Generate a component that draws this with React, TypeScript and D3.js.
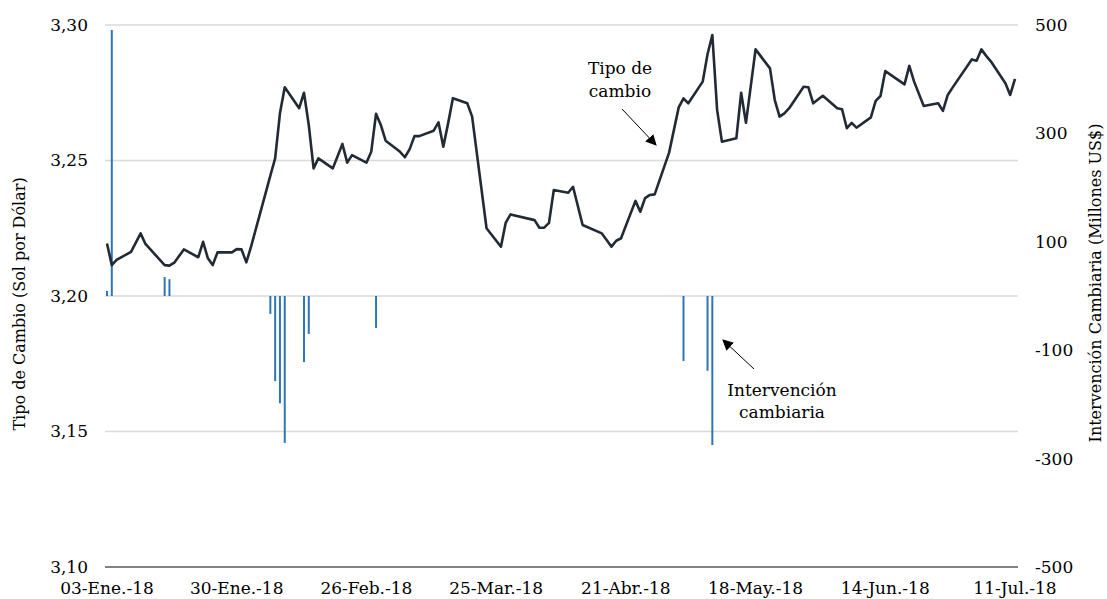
import React from 'react'
import * as d3 from 'd3'

// tipo de cambio diario (S/ por US$)
const fechas = [
  '2018-01-03', '2018-01-04', '2018-01-05', '2018-01-08', '2018-01-10', '2018-01-11',
  '2018-01-15', '2018-01-16', '2018-01-17', '2018-01-19', '2018-01-22', '2018-01-23',
  '2018-01-24', '2018-01-25', '2018-01-26', '2018-01-29', '2018-01-30', '2018-01-31',
  '2018-02-01', '2018-02-02', '2018-02-05', '2018-02-06', '2018-02-07', '2018-02-08',
  '2018-02-09', '2018-02-12', '2018-02-13', '2018-02-14', '2018-02-15', '2018-02-16',
  '2018-02-19', '2018-02-21', '2018-02-22', '2018-02-23', '2018-02-26', '2018-02-27',
  '2018-02-28', '2018-03-01', '2018-03-02', '2018-03-05', '2018-03-06', '2018-03-07',
  '2018-03-08', '2018-03-09', '2018-03-12', '2018-03-13', '2018-03-14', '2018-03-15',
  '2018-03-16', '2018-03-19', '2018-03-20', '2018-03-23', '2018-03-26', '2018-03-27',
  '2018-03-28', '2018-04-02', '2018-04-03', '2018-04-04', '2018-04-05', '2018-04-06',
  '2018-04-09', '2018-04-10', '2018-04-12', '2018-04-16', '2018-04-17', '2018-04-18',
  '2018-04-19', '2018-04-20', '2018-04-23', '2018-04-24', '2018-04-25', '2018-04-26',
  '2018-04-27', '2018-04-30', '2018-05-02', '2018-05-03', '2018-05-04', '2018-05-07',
  '2018-05-08', '2018-05-09', '2018-05-10', '2018-05-11', '2018-05-14', '2018-05-15',
  '2018-05-16', '2018-05-18', '2018-05-21', '2018-05-22', '2018-05-23', '2018-05-24',
  '2018-05-25', '2018-05-28', '2018-05-29', '2018-05-30', '2018-06-01', '2018-06-04',
  '2018-06-05', '2018-06-06', '2018-06-07', '2018-06-08', '2018-06-11', '2018-06-12',
  '2018-06-13', '2018-06-14', '2018-06-18', '2018-06-19', '2018-06-20', '2018-06-22',
  '2018-06-25', '2018-06-26', '2018-06-27', '2018-06-28', '2018-07-02', '2018-07-03',
  '2018-07-04', '2018-07-05', '2018-07-06', '2018-07-09', '2018-07-10', '2018-07-11'
]

const tipoCambio = [
  3.2194, 3.2114, 3.2133, 3.2163, 3.2231, 3.2192,
  3.2114, 3.2112, 3.2123, 3.2172, 3.2143, 3.2200,
  3.2139, 3.2114, 3.2161, 3.2161, 3.2173, 3.2172,
  3.2124, 3.2183, 3.2379, 3.2444, 3.2508, 3.2674,
  3.2770, 3.2693, 3.2750, 3.2631, 3.2471, 3.2508,
  3.2471, 3.2561, 3.2492, 3.2520, 3.2492, 3.2532,
  3.2672, 3.2631, 3.2573, 3.2532, 3.2512, 3.2542,
  3.2590, 3.2590, 3.2610, 3.2641, 3.2551, 3.2637,
  3.2730, 3.2711, 3.2662, 3.2250, 3.2182, 3.2271,
  3.2301, 3.2280, 3.2252, 3.2252, 3.2270, 3.2391,
  3.2381, 3.2403, 3.2262, 3.2231, 3.2207, 3.2182,
  3.2204, 3.2213, 3.2351, 3.2311, 3.2361, 3.2373,
  3.2375, 3.2529, 3.2696, 3.2729, 3.2711, 3.2791,
  3.2892, 3.2963, 3.2686, 3.2569, 3.2582, 3.2750,
  3.2639, 3.2910, 3.2840, 3.2723, 3.2662, 3.2674,
  3.2693, 3.2772, 3.2770, 3.2711, 3.2739, 3.2693,
  3.2689, 3.2619, 3.2639, 3.2621, 3.2659, 3.2720,
  3.2738, 3.2830, 3.2781, 3.2849, 3.2791, 3.2701,
  3.2711, 3.2683, 3.2742, 3.2769, 3.2873, 3.2868,
  3.2910, 3.2886, 3.2865, 3.2785, 3.2742, 3.2801
]

// intervencion cambiaria (millones US$)
const intervFechas = [
  '2018-01-03', '2018-01-04', '2018-01-15', '2018-01-16', '2018-02-06', '2018-02-07',
  '2018-02-08', '2018-02-09', '2018-02-13', '2018-02-14', '2018-02-28', '2018-05-03',
  '2018-05-08', '2018-05-09'
]
const intervMontos = [9, 491, 35, 31, -33, -157, -198, -271, -122, -70, -59, -120, -138, -275]

const ticksIzq = [3.1, 3.15, 3.2, 3.25, 3.3]
const ticksDer = [-500, -300, -100, 100, 300, 500]
const ticksFecha = [
  '2018-01-03', '2018-01-30', '2018-02-26', '2018-03-25', '2018-04-21',
  '2018-05-18', '2018-06-14', '2018-07-11'
]
const meses = ['Ene.', 'Feb.', 'Mar.', 'Abr.', 'May.', 'Jun.', 'Jul.']

const parse = d3.utcParse('%Y-%m-%d')
const fmtFecha = (d: Date) =>
  `${d3.utcFormat('%d')(d)}-${meses[d.getUTCMonth()]}-${d3.utcFormat('%y')(d)}`

const font = '"DejaVu Serif", serif'

export default function App() {
  const width = 1107,
    height = 599,
    left = 105,
    right = 1018,
    top = 25,
    bottom = 567

  const x = d3
    .scaleUtc()
    .domain([parse(ticksFecha[0])!, parse(ticksFecha[ticksFecha.length - 1])!])
    .range([107, 1015])
  const yIzq = d3.scaleLinear().domain([3.1, 3.3]).range([bottom, top])
  const yDer = d3.scaleLinear().domain([-500, 500]).range([bottom, top])

  const serie = fechas.map((f, i) => ({ d: parse(f)!, v: tipoCambio[i] }))
  const linea = d3
    .line<{ d: Date; v: number }>()
    .x(p => x(p.d))
    .y(p => yIzq(p.v))

  return (
    <svg
      width={width}
      height={height}
      style={{ position: 'absolute', left: 0, top: 0, background: '#fff' }}
      fontFamily={font}>
      <defs>
        <marker
          id='flecha'
          viewBox='0 0 10 10'
          refX='9'
          refY='5'
          markerWidth='11'
          markerHeight='11'
          markerUnits='userSpaceOnUse'
          orient='auto'>
          <path d='M0,0 L10,5 L0,10 z' fill='#000' />
        </marker>
      </defs>

      {ticksIzq.slice(1).map(t => (
        <line
          key={t}
          x1={left}
          x2={right}
          y1={yIzq(t)}
          y2={yIzq(t)}
          stroke='#d9d9d9'
          strokeWidth={1.3}
        />
      ))}

      {intervFechas.map((f, i) => (
        <line
          key={f}
          x1={x(parse(f)!)}
          x2={x(parse(f)!)}
          y1={yDer(0)}
          y2={yDer(intervMontos[i])}
          stroke='#2e75b6'
          strokeWidth={2}
        />
      ))}

      <line x1={left} x2={right} y1={bottom} y2={bottom} stroke='#595959' strokeWidth={1.5} />

      <path
        d={linea(serie) || ''}
        fill='none'
        stroke='#222a35'
        strokeWidth={2.6}
        strokeLinejoin='round'
      />

      {ticksIzq.map(t => (
        <text
          key={t}
          x={88}
          y={yIzq(t)}
          dy='0.35em'
          textAnchor='end'
          fontSize={17}
          fill='#000'>
          {d3.format('.2f')(t).replace('.', ',')}
        </text>
      ))}

      {ticksDer.map(t => (
        <text key={t} x={1035} y={yDer(t)} dy='0.35em' fontSize={17} fill='#000'>
          {t}
        </text>
      ))}

      {ticksFecha.map(f => (
        <text
          key={f}
          x={x(parse(f)!)}
          y={594}
          textAnchor='middle'
          fontSize={17}
          fill='#000'>
          {fmtFecha(parse(f)!)}
        </text>
      ))}

      <text
        transform={`translate(25,304) rotate(-90)`}
        textAnchor='middle'
        fontSize={16}
        fill='#000'>
        Tipo de Cambio (Sol por Dólar)
      </text>
      <text
        transform={`translate(1101,283) rotate(-90)`}
        textAnchor='middle'
        fontSize={16}
        fill='#000'>
        Intervención Cambiaria (Millones US$)
      </text>

      <text x={620} y={74} textAnchor='middle' fontSize={17} fill='#000'>
        Tipo de
      </text>
      <text x={620} y={97} textAnchor='middle' fontSize={17} fill='#000'>
        cambio
      </text>
      <line
        x1={622}
        y1={109}
        x2={656}
        y2={145}
        stroke='#000'
        strokeWidth={1}
        markerEnd='url(#flecha)'
      />

      <text x={782} y={396} textAnchor='middle' fontSize={17} fill='#000'>
        Intervención
      </text>
      <text x={782} y={418} textAnchor='middle' fontSize={17} fill='#000'>
        cambiaria
      </text>
      <line
        x1={754}
        y1={369}
        x2={723}
        y2={340}
        stroke='#000'
        strokeWidth={1}
        markerEnd='url(#flecha)'
      />
    </svg>
  )
}
